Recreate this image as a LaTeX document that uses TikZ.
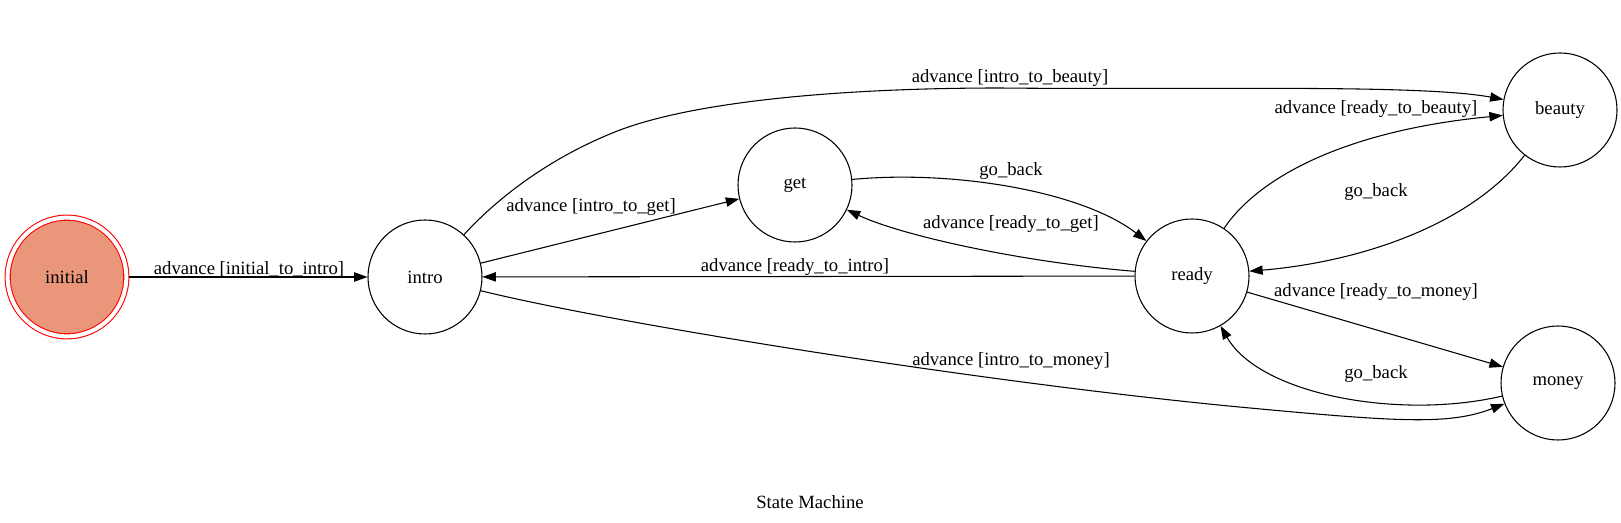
\documentclass[tikz,border=0pt]{standalone}
\usepackage{fontspec}
\setmainfont{Liberation Serif}
\usepackage{tikz}
\usetikzlibrary{arrows.meta}
\definecolor{initfill}{HTML}{E9967A}
\tikzstyle{state}=[draw, circle, inner sep=0pt, minimum size=85.5pt, line width=0.8pt]
\tikzstyle{istate}=[state, draw=red, fill=initfill, double=white, double distance=3pt, minimum size=89pt, outer sep=2.3pt]
\tikzstyle{trans}=[line width=0.8pt, -{Triangle[length=10pt, width=7pt]}]
\tikzstyle{lbl}=[inner sep=0pt, anchor=base]

\begin{document}
\begin{tikzpicture}[x=0.75pt, y=-0.75pt, font=\fontsize{14pt}{17pt}\selectfont]
        \useasboundingbox (0,0) rectangle (1621,523);
        \node[istate] (init) at (67,277) {initial};
        \node[state] (intro) at (425,277) {intro};
        \node[state] (get) at (795,185) {get};
        \node[state] (ready) at (1192,276) {ready};
        \node[state] (beauty) at (1560,110) {beauty};
        \node[state] (money) at (1558,383) {money};
        \draw[trans] (init) -- (intro) node[lbl] (lInitIntro) at (249,275) {advance [initial\_to\_intro]};
        \draw[trans] (intro) -- (get) node[lbl] (lIntroGet) at (591,212) {advance [intro\_to\_get]};
        \draw[trans] (intro) .. controls (505,190) and (560,153) .. (620,130) .. controls (700,100) and (850,88) .. (1000,88) .. controls (1200,90) and (1420,84) .. (beauty) node[lbl] (lIntroBeauty) at (1010,83) {advance [intro\_to\_beauty]};
        \draw[trans] (intro) .. controls (620,325) and (1000,385) .. (1250,408) .. controls (1400,422) and (1450,425) .. (money) node[lbl] (lIntroMoney) at (1011,366) {advance [intro\_to\_money]};
        \draw[trans] (get) .. controls (950,170) and (1080,190) .. (ready) node[lbl] (lGetBack) at (1011,176) {go\_back};
        \draw[trans] (ready) .. controls (1020,262) and (900,235) .. (get) node[lbl] (lReadyGet) at (1011,229) {advance [ready\_to\_get]};
        \draw[trans] (ready) -- (intro) node[lbl] (lReadyIntro) at (795,272) {advance [ready\_to\_intro]};
        \draw[trans] (ready) .. controls (1260,175) and (1350,130) .. (beauty) node[lbl] (lReadyBeauty) at (1376,114) {advance [ready\_to\_beauty]};
        \draw[trans] (beauty) .. controls (1470,225) and (1360,262) .. (ready) node[lbl] (lBeautyBack) at (1376,197) {go\_back};
        \draw[trans] (ready) -- (money) node[lbl] (lReadyMoney) at (1376,297) {advance [ready\_to\_money]};
        \draw[trans] (money) .. controls (1400,420) and (1260,395) .. (ready) node[lbl] (lMoneyBack) at (1376,379) {go\_back};
        \node[lbl] (title) at (810,509) {State Machine};
    \end{tikzpicture}
\end{document}
